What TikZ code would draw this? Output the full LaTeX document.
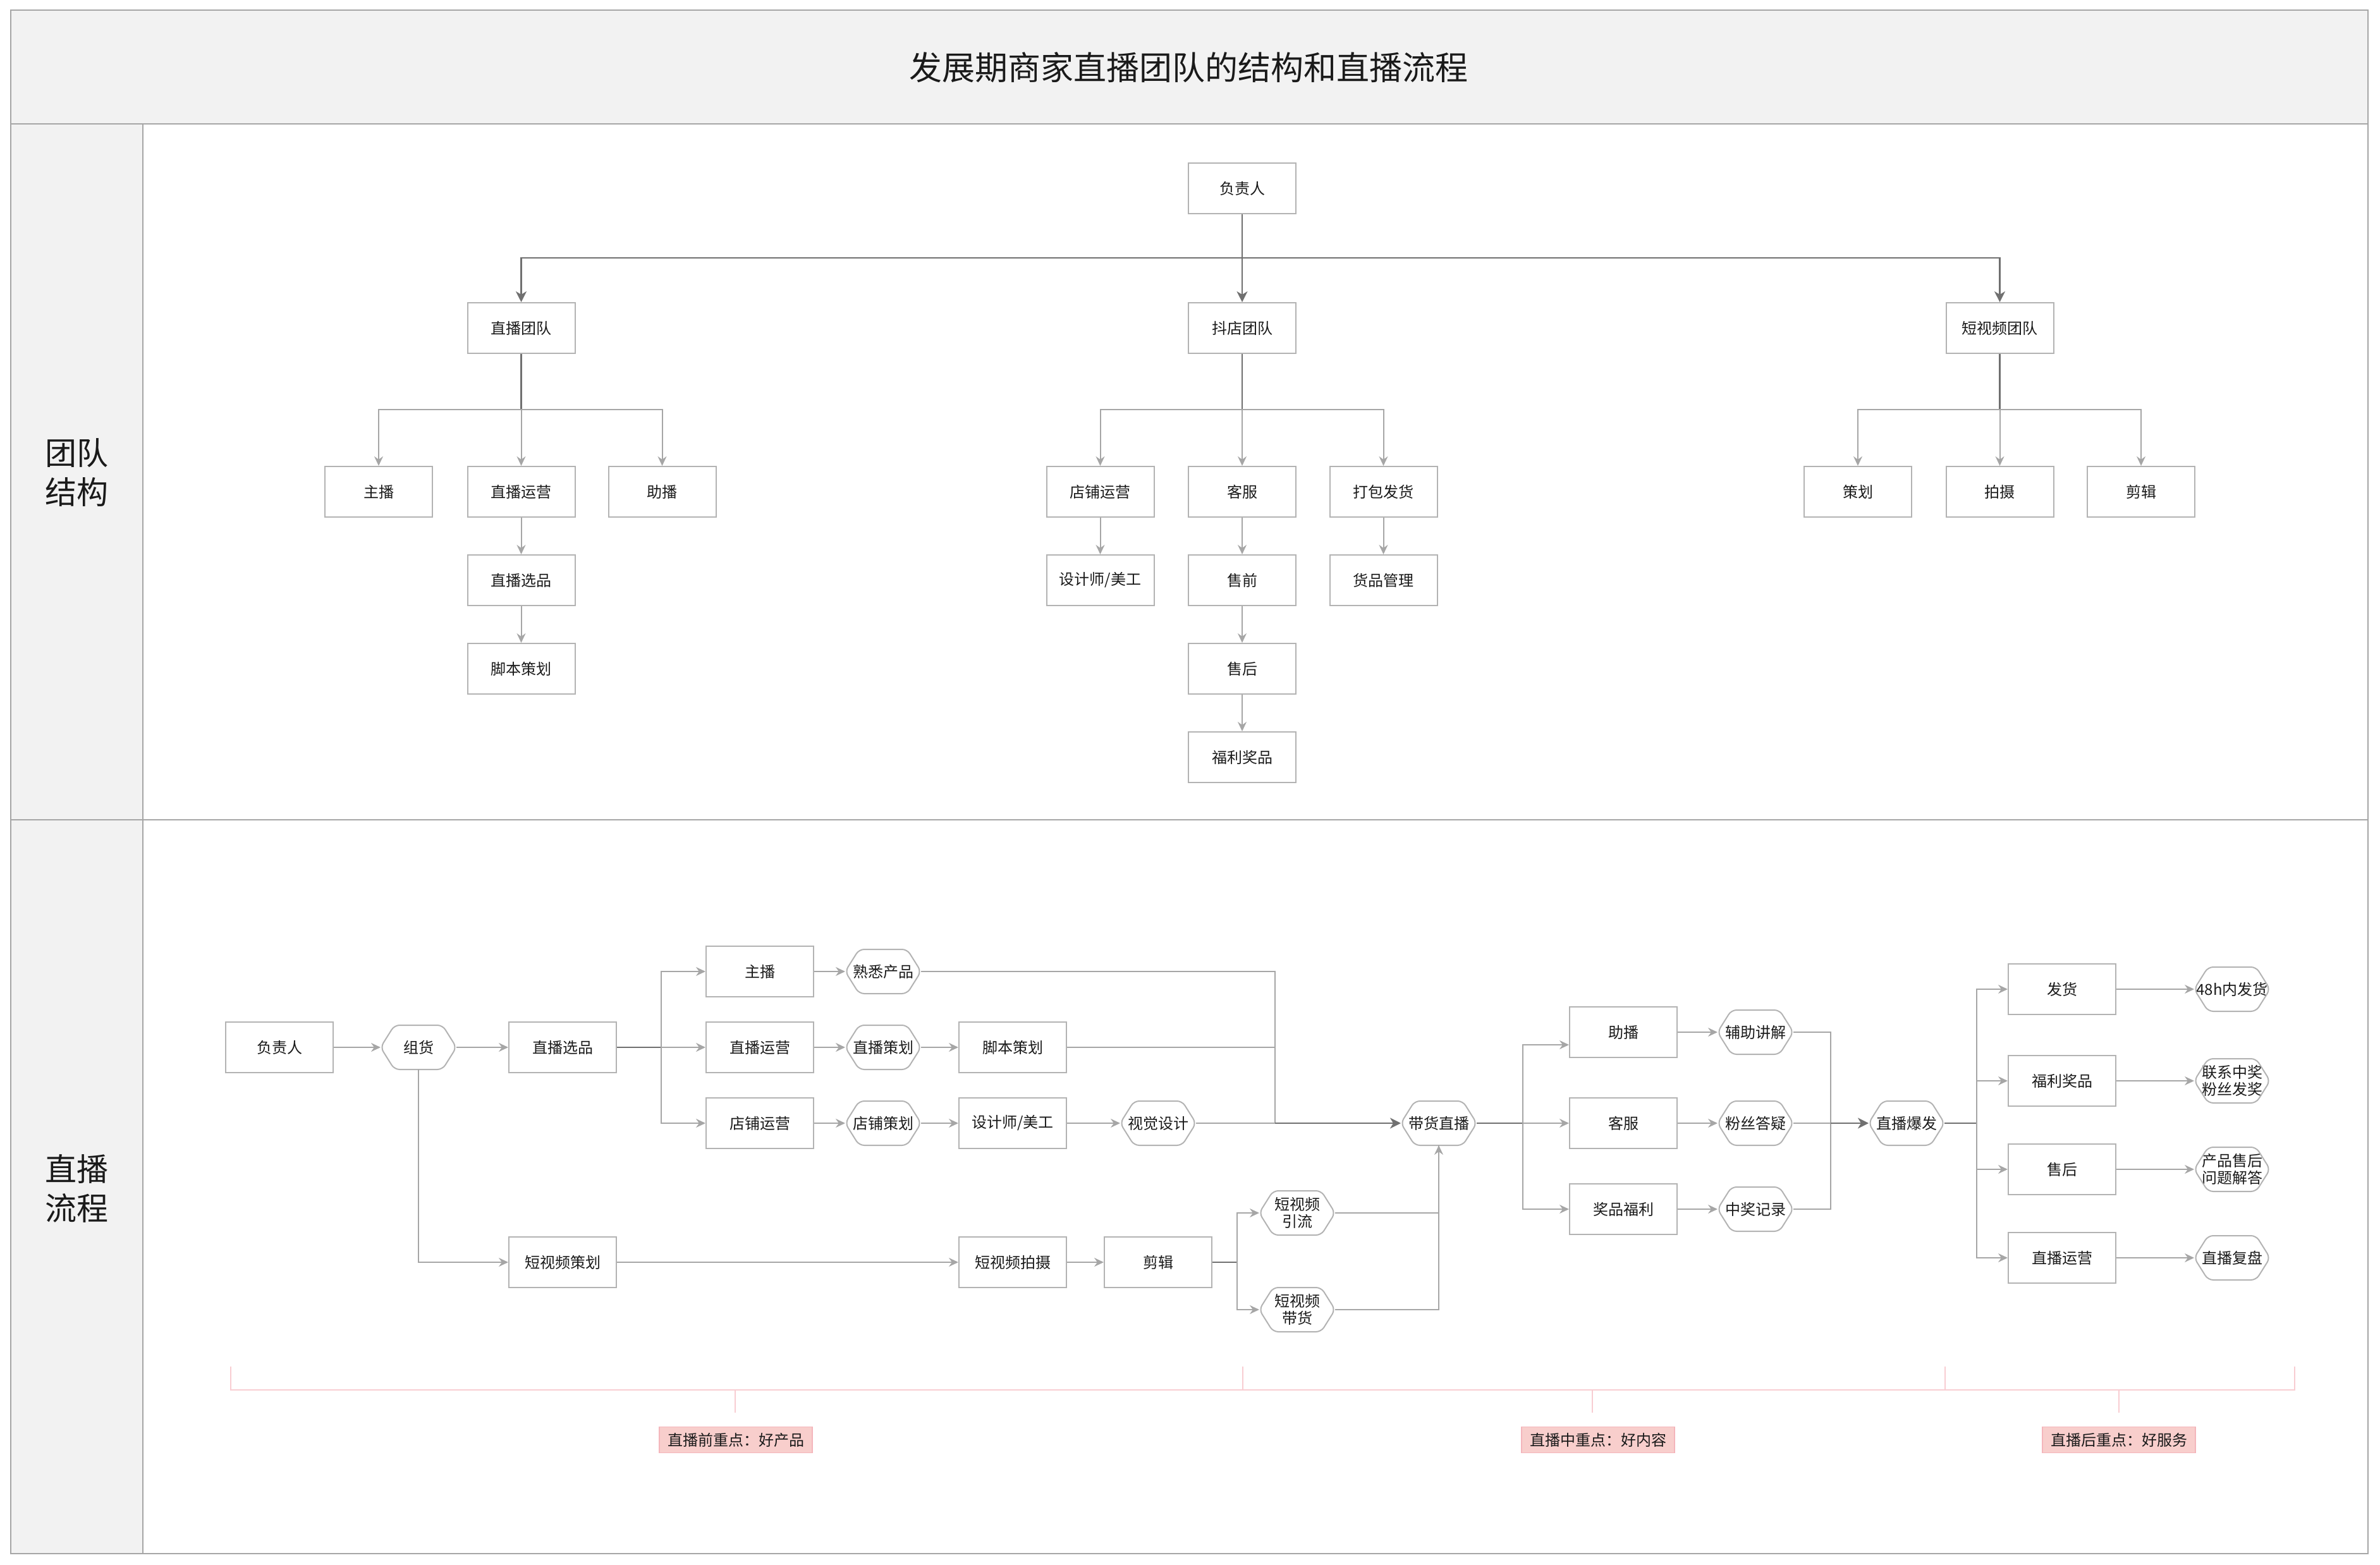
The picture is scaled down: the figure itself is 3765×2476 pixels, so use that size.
\documentclass[tikz,border=0pt]{standalone}
\usepackage{fontspec}
\setmainfont{Noto Sans CJK SC}
\usetikzlibrary{arrows.meta,calc}
\definecolor{bandfill}{HTML}{F2F2F2}
\definecolor{framecol}{HTML}{A6A6A6}
\definecolor{boxline}{HTML}{B3B3B3}
\definecolor{lightln}{HTML}{A6A6A6}
\definecolor{darkln}{HTML}{707070}
\definecolor{txt}{HTML}{1A1A1A}
\definecolor{pinkln}{HTML}{F8CDD2}
\definecolor{pinkfill}{HTML}{F8CECC}
\definecolor{pinkdraw}{HTML}{F4B6BC}
\newcommand\bxfont{\fontsize{12}{13.5}\selectfont}
\tikzset{
  box/.style={draw=boxline, line width=1pt, fill=white, minimum width=85pt, minimum height=40pt, inner sep=0pt, font=\bxfont, text=txt},
  hexn/.style={minimum width=60pt, minimum height=35pt, inner sep=0pt, outer sep=0pt, font=\bxfont, text=txt, align=center},
  hexline/.style={draw=boxline, line width=1pt, rounded corners=4pt},
  la/.style={draw=lightln, line width=1pt, -{Stealth[length=7.5pt,width=7pt,inset=2.5pt]}},
  ln/.style={draw=lightln, line width=1pt},
  da/.style={draw=darkln, line width=1.3pt, -{Stealth[length=8.5pt,width=8.5pt,inset=2.5pt]}},
  dn/.style={draw=darkln, line width=1.3pt},
  pinkl/.style={draw=pinkln, line width=1pt},
  pinkbox/.style={fill=pinkfill, draw=pinkdraw, line width=0.6pt, minimum width=121pt, minimum height=20.5pt, inner sep=0pt, font=\bxfont, text=txt},
  sidelab/.style={font=\fontsize{25}{31}\selectfont, text=txt, align=center}
}
\begin{document}
\begin{tikzpicture}[x=0.5pt,y=-0.5pt]
\useasboundingbox (0,0) rectangle (3765,2476);
% frame
\fill[bandfill] (17,16) rectangle (3746,196);
\fill[bandfill] (17,196) rectangle (226,2458);
\draw[framecol, line width=1.2pt] (17,16) rectangle (3746,2458);
\draw[framecol, line width=1.2pt] (17,196) -- (3746,196);
\draw[framecol, line width=1.2pt] (17,1297) -- (3746,1297);
\draw[framecol, line width=1.2pt] (226,196) -- (226,2458);
\node[font=\fontsize{26}{30}\selectfont, text=txt] (title) at (1880,107) {发展期商家直播团队的结构和直播流程};
\node[sidelab] (lab1) at (121,748) {团队\\结构};
\node[sidelab] (lab2) at (121,1880) {直播\\流程};

% ===== team structure =====
\node[box] (t0) at (1965,298) {负责人};
\node[box] (t1) at (824.5,519) {直播团队};
\node[box] (t2) at (1965,519) {抖店团队};
\node[box] (t3) at (3163.5,519) {短视频团队};
\node[box] (a1) at (599,778) {主播};
\node[box] (a2) at (824.5,778) {直播运营};
\node[box] (a3) at (1047.5,778) {助播};
\node[box] (a4) at (824.5,918) {直播选品};
\node[box] (a5) at (824.5,1058) {脚本策划};
\node[box] (b1) at (1740.5,778) {店铺运营};
\node[box] (b2) at (1965,778) {客服};
\node[box] (b3) at (2188.5,778) {打包发货};
\node[box] (b4) at (1740.5,918) {设计师/美工};
\node[box] (b5) at (1965,918) {售前};
\node[box] (b6) at (2188.5,918) {货品管理};
\node[box] (b7) at (1965,1058) {售后};
\node[box] (b8) at (1965,1198) {福利奖品};
\node[box] (c1) at (2939,778) {策划};
\node[box] (c2) at (3163.5,778) {拍摄};
\node[box] (c3) at (3387,778) {剪辑};

\coordinate (j0) at (1965,408);
\draw[da] (t0) -- (t2);
\draw[da] (j0) -| (t1.north);
\draw[da] (j0) -| (t3.north);
\coordinate (ja) at (824.5,648);
\coordinate (jb) at (1965,648);
\coordinate (jc) at (3163.5,648);
\draw[dn] (t1) -- (ja);
\draw[dn] (t2) -- (jb);
\draw[dn] (t3) -- (jc);
\draw[la] (ja) -| (a1);
\draw[la] (ja) -- (a2);
\draw[la] (ja) -| (a3);
\draw[la] (a2) -- (a4);
\draw[la] (a4) -- (a5);
\draw[la] (jb) -| (b1);
\draw[la] (jb) -- (b2);
\draw[la] (jb) -| (b3);
\draw[la] (b1) -- (b4);
\draw[la] (b2) -- (b5);
\draw[la] (b5) -- (b7);
\draw[la] (b7) -- (b8);
\draw[la] (b3) -- (b6);
\draw[la] (jc) -| (c1);
\draw[la] (jc) -- (c2);
\draw[la] (jc) -| (c3);

% ===== live process =====
\node[box] (fz2) at (442,1657) {负责人};
\node[hexn] (zh) at (662,1657) {组货};
\node[box] (xp) at (890,1657) {直播选品};
\node[box] (zb) at (1202,1537) {主播};
\node[hexn] (sx) at (1397,1537) {熟悉产品};
\node[box] (yy) at (1202,1657) {直播运营};
\node[hexn] (ch) at (1397,1657) {直播策划};
\node[box] (jbc) at (1602,1657) {脚本策划};
\node[box] (dp) at (1202,1777) {店铺运营};
\node[hexn] (dc) at (1397,1777) {店铺策划};
\node[box] (sj) at (1602,1777) {设计师/美工};
\node[hexn] (sjsj) at (1832,1777) {视觉设计};
\node[hexn] (dh) at (2276,1777) {带货直播};
\node[box] (dspch) at (890,1997) {短视频策划};
\node[box] (dsps) at (1602,1997) {短视频拍摄};
\node[box] (jj) at (1832,1997) {剪辑};
\node[hexn] (yl) at (2052,1919) {短视频\\引流};
\node[hexn] (dhv) at (2052,2072) {短视频\\带货};
\node[box] (zbo) at (2568,1633) {助播};
\node[box] (kf) at (2568,1777) {客服};
\node[box] (jp) at (2568,1913) {奖品福利};
\node[hexn] (fzj) at (2777,1633) {辅助讲解};
\node[hexn] (fs) at (2777,1777) {粉丝答疑};
\node[hexn] (zj) at (2777,1913) {中奖记录};
\node[hexn] (bf) at (3016,1777) {直播爆发};
\node[box] (fh) at (3262,1565) {发货};
\node[box] (fl) at (3262,1710) {福利奖品};
\node[box] (sh) at (3262,1850) {售后};
\node[box] (yy2) at (3262,1990) {直播运营};
\node[hexn] (h48) at (3531,1565) {\makebox[0pt]{48h内发货}};
\node[hexn] (lx) at (3531,1710) {联系中奖\\粉丝发奖};
\node[hexn] (cp) at (3531,1850) {产品售后\\问题解答};
\node[hexn] (fp) at (3531,1990) {直播复盘};

\foreach \n in {zh,sx,ch,dc,sjsj,dh,yl,dhv,fzj,fs,zj,bf,h48,lx,cp,fp}
  \draw[hexline] (\n.west) -- ([xshift=11pt]\n.north west) -- ([xshift=-11pt]\n.north east) -- (\n.east) -- ([xshift=-11pt]\n.south east) -- ([xshift=11pt]\n.south west) -- cycle;

\draw[la] (fz2) -- (zh);
\draw[la] (zh) -- (xp);
\coordinate (k1) at (1046,1657);
\draw[dn] (xp) -- (k1);
\draw[la] (k1) |- (zb);
\draw[la] (k1) -- (yy);
\draw[la] (k1) |- (dp);
\draw[la] (zb) -- (sx);
\draw[la] (yy) -- (ch);
\draw[la] (ch) -- (jbc);
\draw[la] (dp) -- (dc);
\draw[la] (dc) -- (sj);
\draw[la] (sj) -- (sjsj);
\coordinate (k2) at (2017,1777);
\draw[ln] (sx) -| (k2);
\draw[ln] (jbc) -| (k2);
\draw[ln] (sjsj) -- (k2);
\draw[da] (k2) -- (dh);
\draw[la] (zh) |- (dspch);
\draw[la] (dspch) -- (dsps);
\draw[la] (dsps) -- (jj);
\coordinate (k4) at (1957,1997);
\draw[dn] (jj) -- (k4);
\draw[la] (k4) |- (yl);
\draw[la] (k4) |- (dhv);
\draw[ln] (yl) -| (dh);
\draw[la] (dhv) -| (dh);
\coordinate (k5) at (2409,1777);
\draw[dn] (dh) -- (k5);
\draw[la] (k5) |- ([yshift=-10pt]zbo.west);
\draw[la] (k5) -- (kf);
\draw[la] (k5) |- (jp);
\draw[la] (zbo) -- (fzj);
\draw[la] (kf) -- (fs);
\draw[la] (jp) -- (zj);
\coordinate (k6) at (2896,1777);
\draw[ln] (fzj) -| (k6);
\draw[ln] (zj) -| (k6);
\draw[ln] (fs) -- (k6);
\draw[da] (k6) -- (bf);
\coordinate (k7) at (3127,1777);
\draw[dn] (bf) -- (k7);
\draw[la] (k7) |- (fh);
\draw[la] (k7) |- (fl);
\draw[la] (k7) |- (sh);
\draw[la] (k7) |- (yy2);
\draw[la] (fh) -- (h48);
\draw[la] (fl) -- (lx);
\draw[la] (sh) -- (cp);
\draw[la] (yy2) -- (fp);

% ===== timeline =====
\draw[pinkl] (365,2162) -- (365,2199) -- (3630,2199) -- (3630,2162);
\draw[pinkl] (1966,2162) -- (1966,2199);
\draw[pinkl] (3077,2162) -- (3077,2199);
\draw[pinkl] (1163,2199) -- (1163,2235);
\draw[pinkl] (2519,2199) -- (2519,2235);
\draw[pinkl] (3352,2199) -- (3352,2235);
\node[pinkbox] (p1) at (1164,2278) {直播前重点：好产品};
\node[pinkbox] (p2) at (2528,2278) {直播中重点：好内容};
\node[pinkbox] (p3) at (3352,2278) {直播后重点：好服务};
\end{tikzpicture}
\end{document}
